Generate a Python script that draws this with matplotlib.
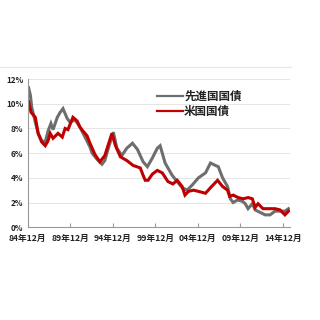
import matplotlib
matplotlib.use('Agg')
import matplotlib.pyplot as plt
from matplotlib.lines import Line2D

plt.rcParams['font.family'] = ['Noto Sans CJK JP', 'DejaVu Sans']

# months counted from 1984-12
gray_months = [0, 1, 4, 6, 11, 15, 20, 25, 29, 33, 36, 42, 46, 50, 56, 60, 67, 74, 81, 88,
               91, 98, 105, 109, 114, 121, 126, 133, 140, 148, 155, 163, 169, 176, 183, 187,
               194, 204, 218, 225, 232, 241, 251, 258, 265, 269, 275, 282, 286, 290, 296,
               303, 307, 311, 317, 321, 328, 335, 342, 349, 356, 363, 368]
gray_vals = [11.2, 11.4, 10.7, 9.7, 8.5, 7.6, 7.0, 6.9, 7.8, 8.4, 7.9, 8.9, 9.3, 9.6, 8.8,
             8.5, 8.7, 8.1, 7.3, 6.5, 6.0, 5.5, 5.1, 5.4, 6.4, 7.7, 6.4, 5.8, 6.4, 6.8, 6.3,
             5.3, 4.9, 5.6, 6.4, 6.6, 5.2, 4.2, 3.2, 3.0, 3.4, 4.0, 4.4, 5.2, 5.0, 4.9, 4.0,
             3.3, 2.3, 2.0, 2.2, 2.1, 1.9, 1.5, 1.9, 1.4, 1.2, 1.0, 1.0, 1.3, 1.3, 1.3, 1.5]

red_months = [0, 1, 5, 11, 15, 20, 25, 29, 32, 36, 43, 49, 53, 57, 64, 70, 74, 78, 84, 88,
              95, 102, 109, 114, 119, 124, 131, 140, 149, 159, 163, 166, 170, 176, 183, 190,
              198, 205, 211, 218, 222, 227, 234, 241, 251, 258, 268, 275, 282, 285, 290,
              297, 304, 311, 317, 321, 325, 332, 342, 349, 356, 363, 368]
red_vals = [9.9, 10.3, 9.3, 8.9, 7.6, 6.9, 6.6, 7.0, 7.6, 7.2, 7.6, 7.3, 8.0, 7.9, 8.9, 8.6,
            8.1, 7.8, 7.4, 6.8, 5.9, 5.3, 5.8, 6.7, 7.6, 6.6, 5.7, 5.4, 5.0, 4.8, 4.2, 3.8,
            3.8, 4.3, 4.6, 4.4, 3.7, 3.5, 3.8, 3.3, 2.6, 2.9, 3.0, 2.9, 2.75, 3.2, 3.8, 3.3,
            3.0, 2.5, 2.6, 2.4, 2.3, 2.4, 2.3, 1.6, 1.9, 1.5, 1.5, 1.5, 1.4, 1.0, 1.3]

tick_months = [0, 60, 120, 180, 240, 300, 360]
tick_labels = ['84年12月', '89年12月', '94年12月', '99年12月', '04年12月', '09年12月', '14年12月']
y_ticks = [0, 2, 4, 6, 8, 10, 12]
series_names = ['先進国国債', '米国国債']

fig = plt.figure(figsize=(3.2, 3.2), dpi=100)
ax = fig.add_axes([0.086, 0.29, 0.82, 0.463])

ax.plot(gray_months, gray_vals, color='#6e6e6e', lw=2.2, solid_joinstyle='miter')
ax.plot(red_months, red_vals, color='#c00000', lw=2.2, solid_joinstyle='miter')

ax.set_xlim(0, 370)
ax.set_ylim(0, 12)
ax.set_yticks(y_ticks)
ax.set_yticklabels([f'{v}%' for v in y_ticks])
ax.set_xticks(tick_months)
ax.set_xticklabels(tick_labels)
ax.tick_params(axis='x', direction='in', length=3, color='#999999', labelsize=6.2, pad=5,
               labelcolor='#222222')
ax.tick_params(axis='y', length=0, labelsize=5.8, pad=3, labelcolor='#222222')
for lbl in ax.get_xticklabels() + ax.get_yticklabels():
    lbl.set_fontweight('bold')
ax.grid(axis='y', color='#e0e0e0', lw=0.6)
ax.set_axisbelow(True)
for s in ['top', 'right']:
    ax.spines[s].set_visible(False)
for s in ['left', 'bottom']:
    ax.spines[s].set_color('#999999')
    ax.spines[s].set_linewidth(0.8)

handles = [Line2D([], [], color='#6e6e6e', lw=1.6), Line2D([], [], color='#c00000', lw=1.6)]
leg = ax.legend(handles, series_names, loc='upper left', bbox_to_anchor=(0.495, 0.925),
                frameon=False, borderpad=0, borderaxespad=0, handlelength=2.2,
                handletextpad=0.12, labelspacing=0.15,
                prop={'size': 8.3, 'weight': 'bold',
                      'family': ['Noto Sans CJK JP', 'DejaVu Sans']})
for t in leg.get_texts():
    t.set_color('#222222')

fig.add_artist(Line2D([0.0, 0.91], [0.79, 0.79], color='#e6e6e6', lw=0.8))

fig.savefig('out.png', dpi=100)
